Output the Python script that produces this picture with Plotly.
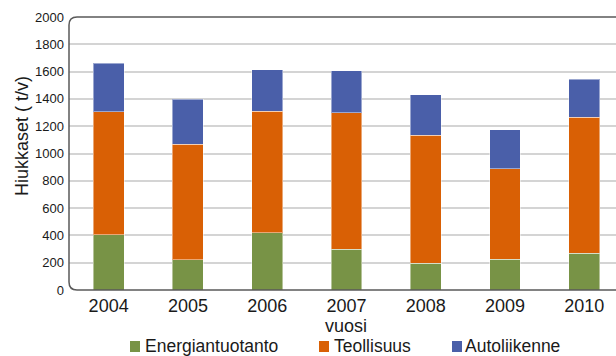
import plotly.graph_objects as go

# Hiukkaspäästöt lähteittäin (t/v)
vuodet = ["2004", "2005", "2006", "2007", "2008", "2009", "2010"]
energiantuotanto = [405, 220, 420, 300, 195, 225, 270]
teollisuus = [900, 847, 890, 1000, 940, 665, 995]
autoliikenne = [355, 330, 305, 305, 295, 285, 278]

sarjat = ["Energiantuotanto", "Teollisuus", "Autoliikenne"]
varit = ["#789346", "#D96005", "#4A5FA9"]
y_tikit = list(range(0, 2001, 200))

W, H = 616, 356
L, R, T, B = 69, 0, 17, 66
pw, ph = W - L - R, H - T - B


def px(x):
    return (x - L) / pw


def py(y):
    return (H - B - y) / ph


FONT = "Liberation Sans, Arial, sans-serif"
TXT = "#1a1a1a"

fig = go.Figure()
for nimi, arvot, vari in zip(sarjat, [energiantuotanto, teollisuus, autoliikenne], varit):
    fig.add_bar(
        x=vuodet, y=arvot, name=nimi,
        marker=dict(color=vari, line=dict(color="rgba(255,255,255,0.45)", width=1)),
        showlegend=False,
    )

shapes = []
# axis frame with rounded left corners
rx, ry = 8 / pw, 8 / ph
shapes.append(dict(
    type="path", xref="paper", yref="paper", layer="above",
    path=f"M 1,1 L {rx},1 Q 0,1 0,{1-ry} L 0,{ry} Q 0,0 {rx},0 L 1,0",
    line=dict(color="#5a5a5a", width=1.5),
))

annotations = [
    dict(text="Hiukkaset ( t/v)", xref="paper", yref="paper", x=px(22), y=py(136),
         textangle=-90, showarrow=False, font=dict(size=18, color=TXT, family=FONT),
         xanchor="center", yanchor="middle"),
    dict(text="vuosi", xref="x", yref="paper", x=3, y=py(325.5), showarrow=False,
         font=dict(size=18, color=TXT, family=FONT), xanchor="center", yanchor="middle"),
]

# legend row along the bottom
leg_sq = [130, 319, 452]
leg_txt = [143, 332, 463]
for nimi, vari, sx, tx in zip(sarjat, varit, leg_sq, leg_txt):
    shapes.append(dict(type="rect", xref="paper", yref="paper",
                       x0=px(sx), x1=px(sx + 10), y0=py(352), y1=py(341),
                       fillcolor=vari, line=dict(width=0)))
    annotations.append(dict(text=nimi, xref="paper", yref="paper", x=px(tx), y=py(345.5),
                            showarrow=False, xanchor="left", yanchor="middle",
                            font=dict(size=17.5, color=TXT, family=FONT)))

fig.update_layout(
    width=W, height=H,
    margin=dict(l=L, r=R, t=T, b=B, pad=0),
    barmode="stack", bargap=0.61,
    plot_bgcolor="white", paper_bgcolor="white",
    shapes=shapes, annotations=annotations,
    font=dict(family=FONT, color=TXT),
    xaxis=dict(range=[-0.5, 6.4], showgrid=False, showline=False, zeroline=False,
               tickfont=dict(size=18, color=TXT), ticks="", fixedrange=True,
               ticklabelstandoff=3),
    yaxis=dict(range=[0, 2000], tickvals=y_tikit, showgrid=True, gridcolor="#d4d4d4",
               gridwidth=1.5, showline=False, zeroline=False,
               tickfont=dict(size=13, color=TXT), ticks="", ticklabelstandoff=4),
)

fig.write_html("out.html")
